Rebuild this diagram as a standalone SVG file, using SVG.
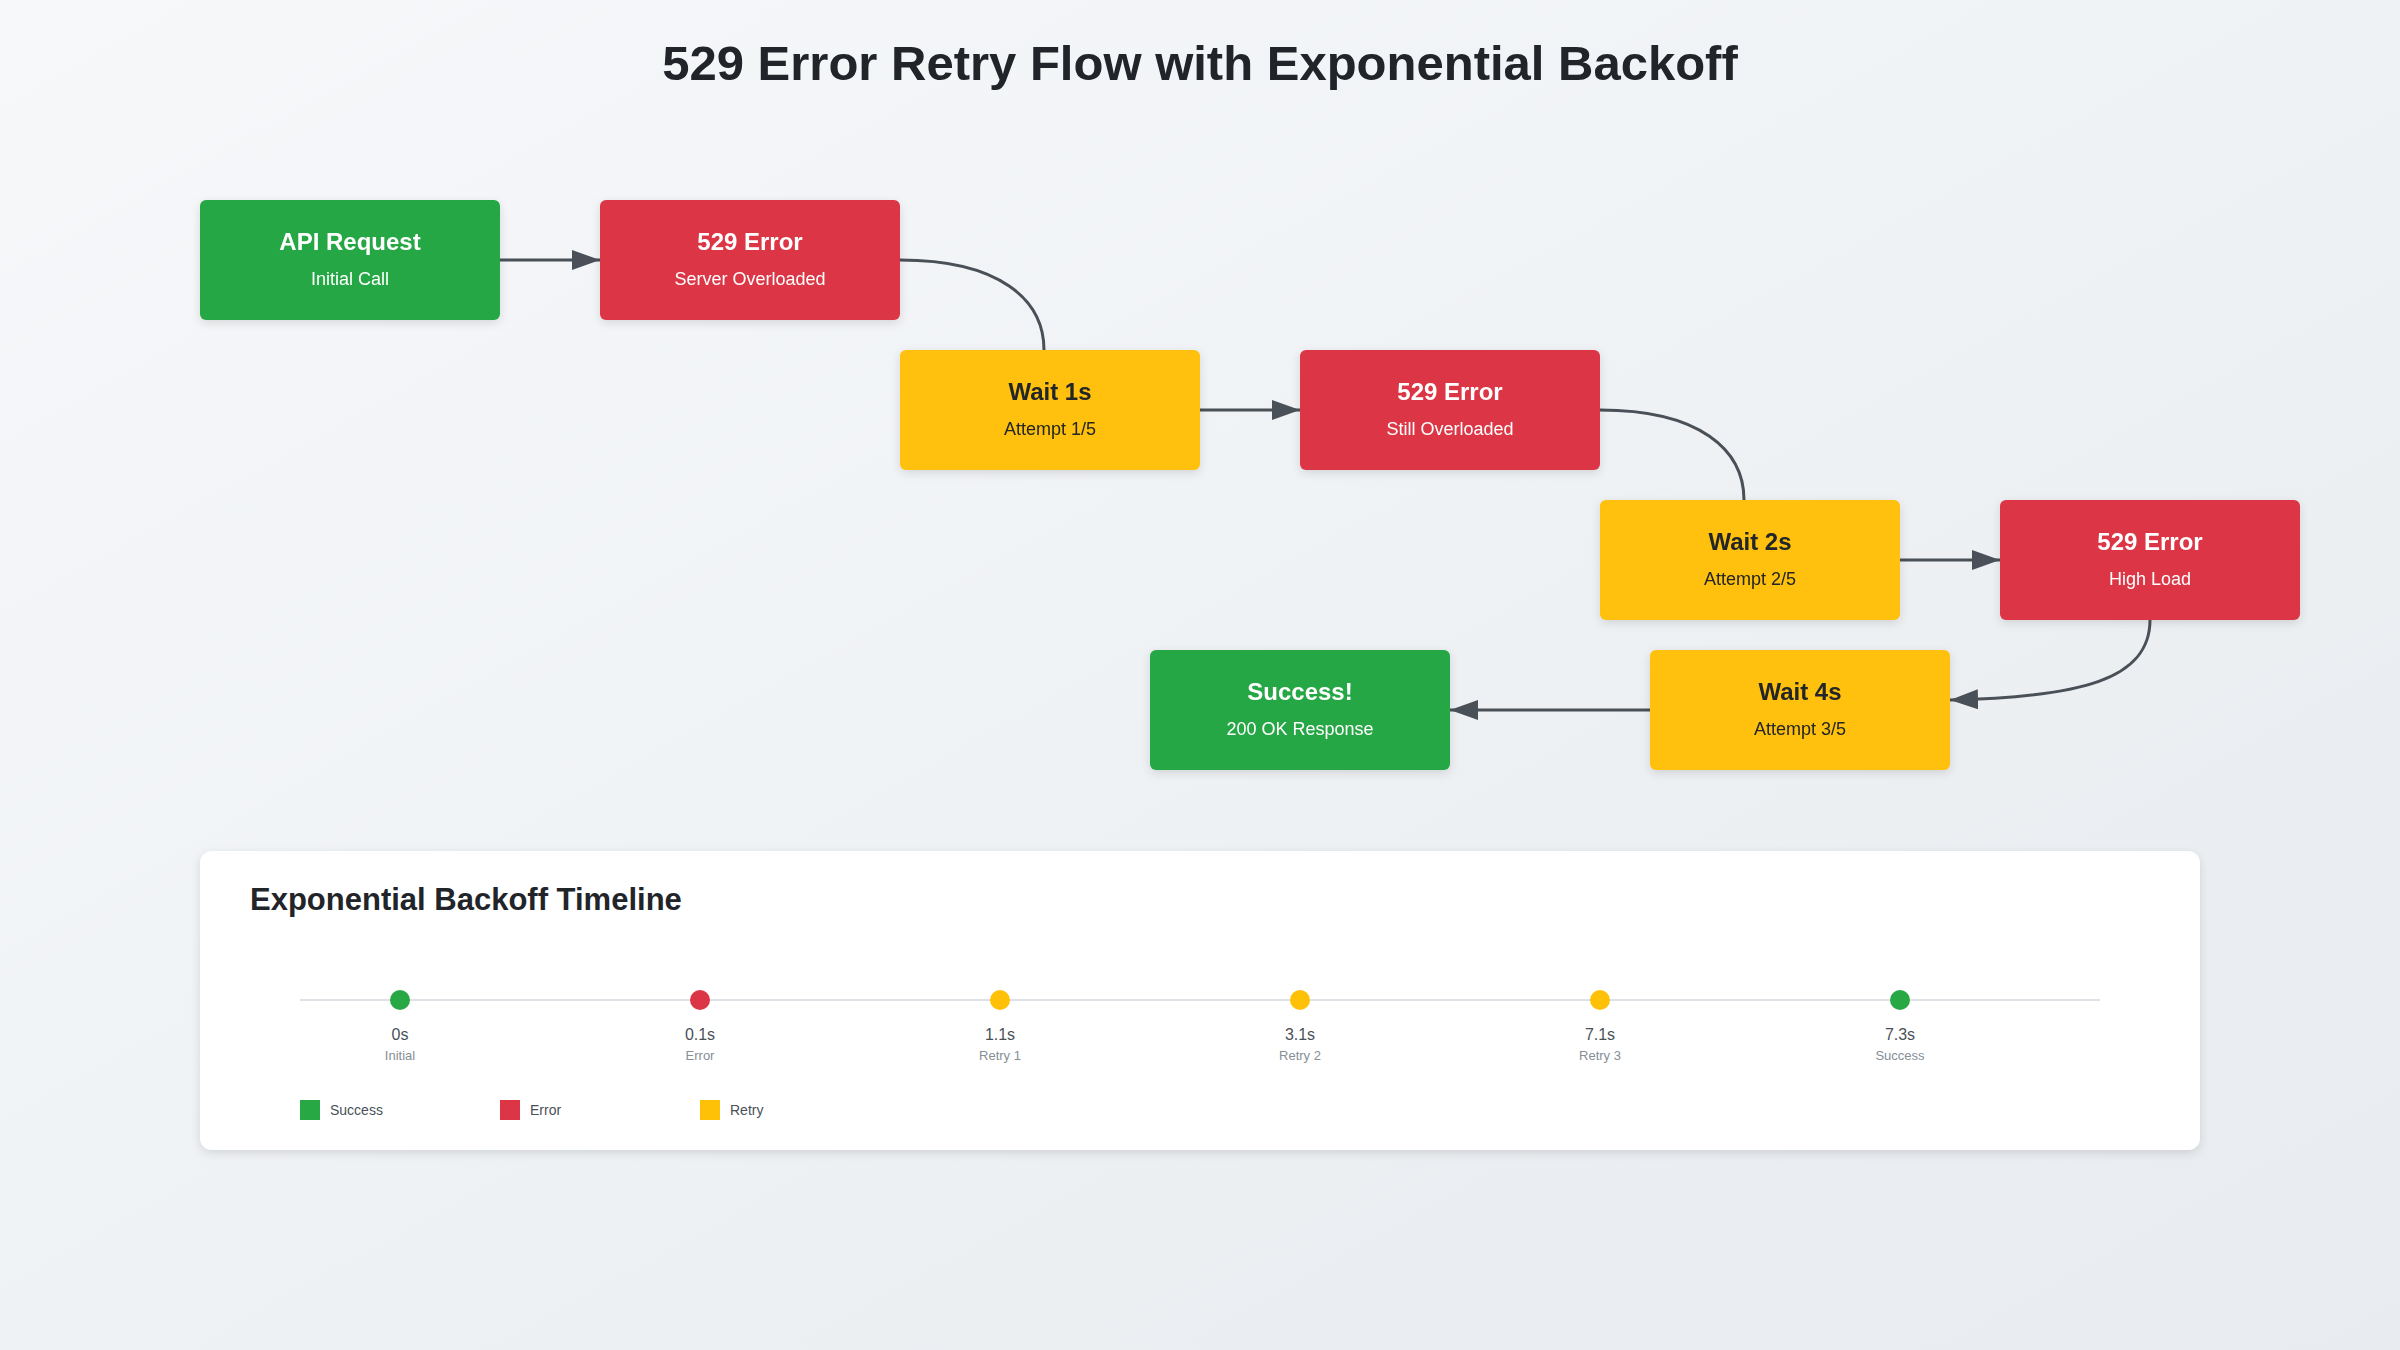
<svg xmlns="http://www.w3.org/2000/svg" width="2400" height="1350" viewBox="0 0 2400 1350">
<defs>
<linearGradient id="bg" x1="0" y1="0" x2="1" y2="1"><stop offset="0" stop-color="#f6f8fa"/><stop offset="1" stop-color="#e8ebef"/></linearGradient>
<marker id="arr" viewBox="0 0 10 10" refX="10" refY="5" markerWidth="10" markerHeight="10" markerUnits="userSpaceOnUse" orient="auto"><path d="M0,0 L10,5 L0,10 z" fill="#495057"/></marker>
<marker id="arrow" viewBox="0 0 10 10" refX="10" refY="5" markerWidth="28" markerHeight="20" orient="auto" markerUnits="userSpaceOnUse" preserveAspectRatio="none"><path d="M0,0 L10,5 L0,10 z" fill="#495057"/></marker>
<filter id="sh" x="-10%" y="-10%" width="120%" height="130%"><feDropShadow dx="0" dy="3" stdDeviation="5" flood-color="#000" flood-opacity="0.12"/></filter>
</defs>
<style>
text{font-family:"Liberation Sans",Arial,sans-serif;text-anchor:middle}
.g{fill:#28a745}.r{fill:#dc3545}.y{fill:#ffc107}
.t{font-size:24px;font-weight:bold;fill:#fff}.s{font-size:18px;fill:#fff}
.y~.t{fill:#212529}.y~.s{fill:#212529}
.c{fill:none;stroke:#495057;stroke-width:3}
.tt{font-size:16px;fill:#495057}.ts{font-size:13px;fill:#868e96}
.lg{font-size:14px;fill:#495057;text-anchor:start}
</style>
<rect width="2400" height="1350" fill="url(#bg)"/>
<text x="1200" y="80" style="font-size:49px;font-weight:bold;fill:#212529">529 Error Retry Flow with Exponential Backoff</text>
<g id="connectors">
<path class="c" d="M500,260 L600,260" marker-end="url(#arrow)"/>
<path class="c" d="M900,260 C1000,260 1044,300 1044,350"/>
<path class="c" d="M1200,410 L1300,410" marker-end="url(#arrow)"/>
<path class="c" d="M1600,410 C1700,410 1744,450 1744,500"/>
<path class="c" d="M1900,560 L2000,560" marker-end="url(#arrow)"/>
<path class="c" d="M2150,620 C2150,680 2080,697 1950,700" marker-end="url(#arrow)"/>
<path class="c" d="M1650,710 L1450,710" marker-end="url(#arrow)"/>
</g>
<g id="n1" filter="url(#sh)"><rect class="g" x="200" y="200" width="300" height="120" rx="6"/><text class="t" x="350" y="250">API Request</text><text class="s" x="350" y="285">Initial Call</text></g>
<g id="n2" filter="url(#sh)"><rect class="r" x="600" y="200" width="300" height="120" rx="6"/><text class="t" x="750" y="250">529 Error</text><text class="s" x="750" y="285">Server Overloaded</text></g>
<g id="n3" filter="url(#sh)"><rect class="y" x="900" y="350" width="300" height="120" rx="6"/><text class="t" x="1050" y="400">Wait 1s</text><text class="s" x="1050" y="435">Attempt 1/5</text></g>
<g id="n4" filter="url(#sh)"><rect class="r" x="1300" y="350" width="300" height="120" rx="6"/><text class="t" x="1450" y="400">529 Error</text><text class="s" x="1450" y="435">Still Overloaded</text></g>
<g id="n5" filter="url(#sh)"><rect class="y" x="1600" y="500" width="300" height="120" rx="6"/><text class="t" x="1750" y="550">Wait 2s</text><text class="s" x="1750" y="585">Attempt 2/5</text></g>
<g id="n6" filter="url(#sh)"><rect class="r" x="2000" y="500" width="300" height="120" rx="6"/><text class="t" x="2150" y="550">529 Error</text><text class="s" x="2150" y="585">High Load</text></g>
<g id="n7" filter="url(#sh)"><rect class="y" x="1650" y="650" width="300" height="120" rx="6"/><text class="t" x="1800" y="700">Wait 4s</text><text class="s" x="1800" y="735">Attempt 3/5</text></g>
<g id="n8" filter="url(#sh)"><rect class="g" x="1150" y="650" width="300" height="120" rx="6"/><text class="t" x="1300" y="700">Success!</text><text class="s" x="1300" y="735">200 OK Response</text></g>
<g id="timeline">
<rect x="200" y="851" width="2000" height="299" rx="12" fill="#fff" filter="url(#sh)"/>
<text x="250" y="910" style="font-size:31px;font-weight:bold;fill:#212529;text-anchor:start">Exponential Backoff Timeline</text>
<line x1="300" y1="1000" x2="2100" y2="1000" stroke="#dee2e6" stroke-width="2"/>
<circle class="g" cx="400" cy="1000" r="10"/><text class="tt" x="400" y="1040">0s</text><text class="ts" x="400" y="1060">Initial</text>
<circle class="r" cx="700" cy="1000" r="10"/><text class="tt" x="700" y="1040">0.1s</text><text class="ts" x="700" y="1060">Error</text>
<circle class="y" cx="1000" cy="1000" r="10"/><text class="tt" x="1000" y="1040">1.1s</text><text class="ts" x="1000" y="1060">Retry 1</text>
<circle class="y" cx="1300" cy="1000" r="10"/><text class="tt" x="1300" y="1040">3.1s</text><text class="ts" x="1300" y="1060">Retry 2</text>
<circle class="y" cx="1600" cy="1000" r="10"/><text class="tt" x="1600" y="1040">7.1s</text><text class="ts" x="1600" y="1060">Retry 3</text>
<circle class="g" cx="1900" cy="1000" r="10"/><text class="tt" x="1900" y="1040">7.3s</text><text class="ts" x="1900" y="1060">Success</text>
<rect class="g" x="300" y="1100" width="20" height="20"/><text class="lg" x="330" y="1115">Success</text>
<rect class="r" x="500" y="1100" width="20" height="20"/><text class="lg" x="530" y="1115">Error</text>
<rect class="y" x="700" y="1100" width="20" height="20"/><text class="lg" x="730" y="1115">Retry</text>
</g>
</svg>
